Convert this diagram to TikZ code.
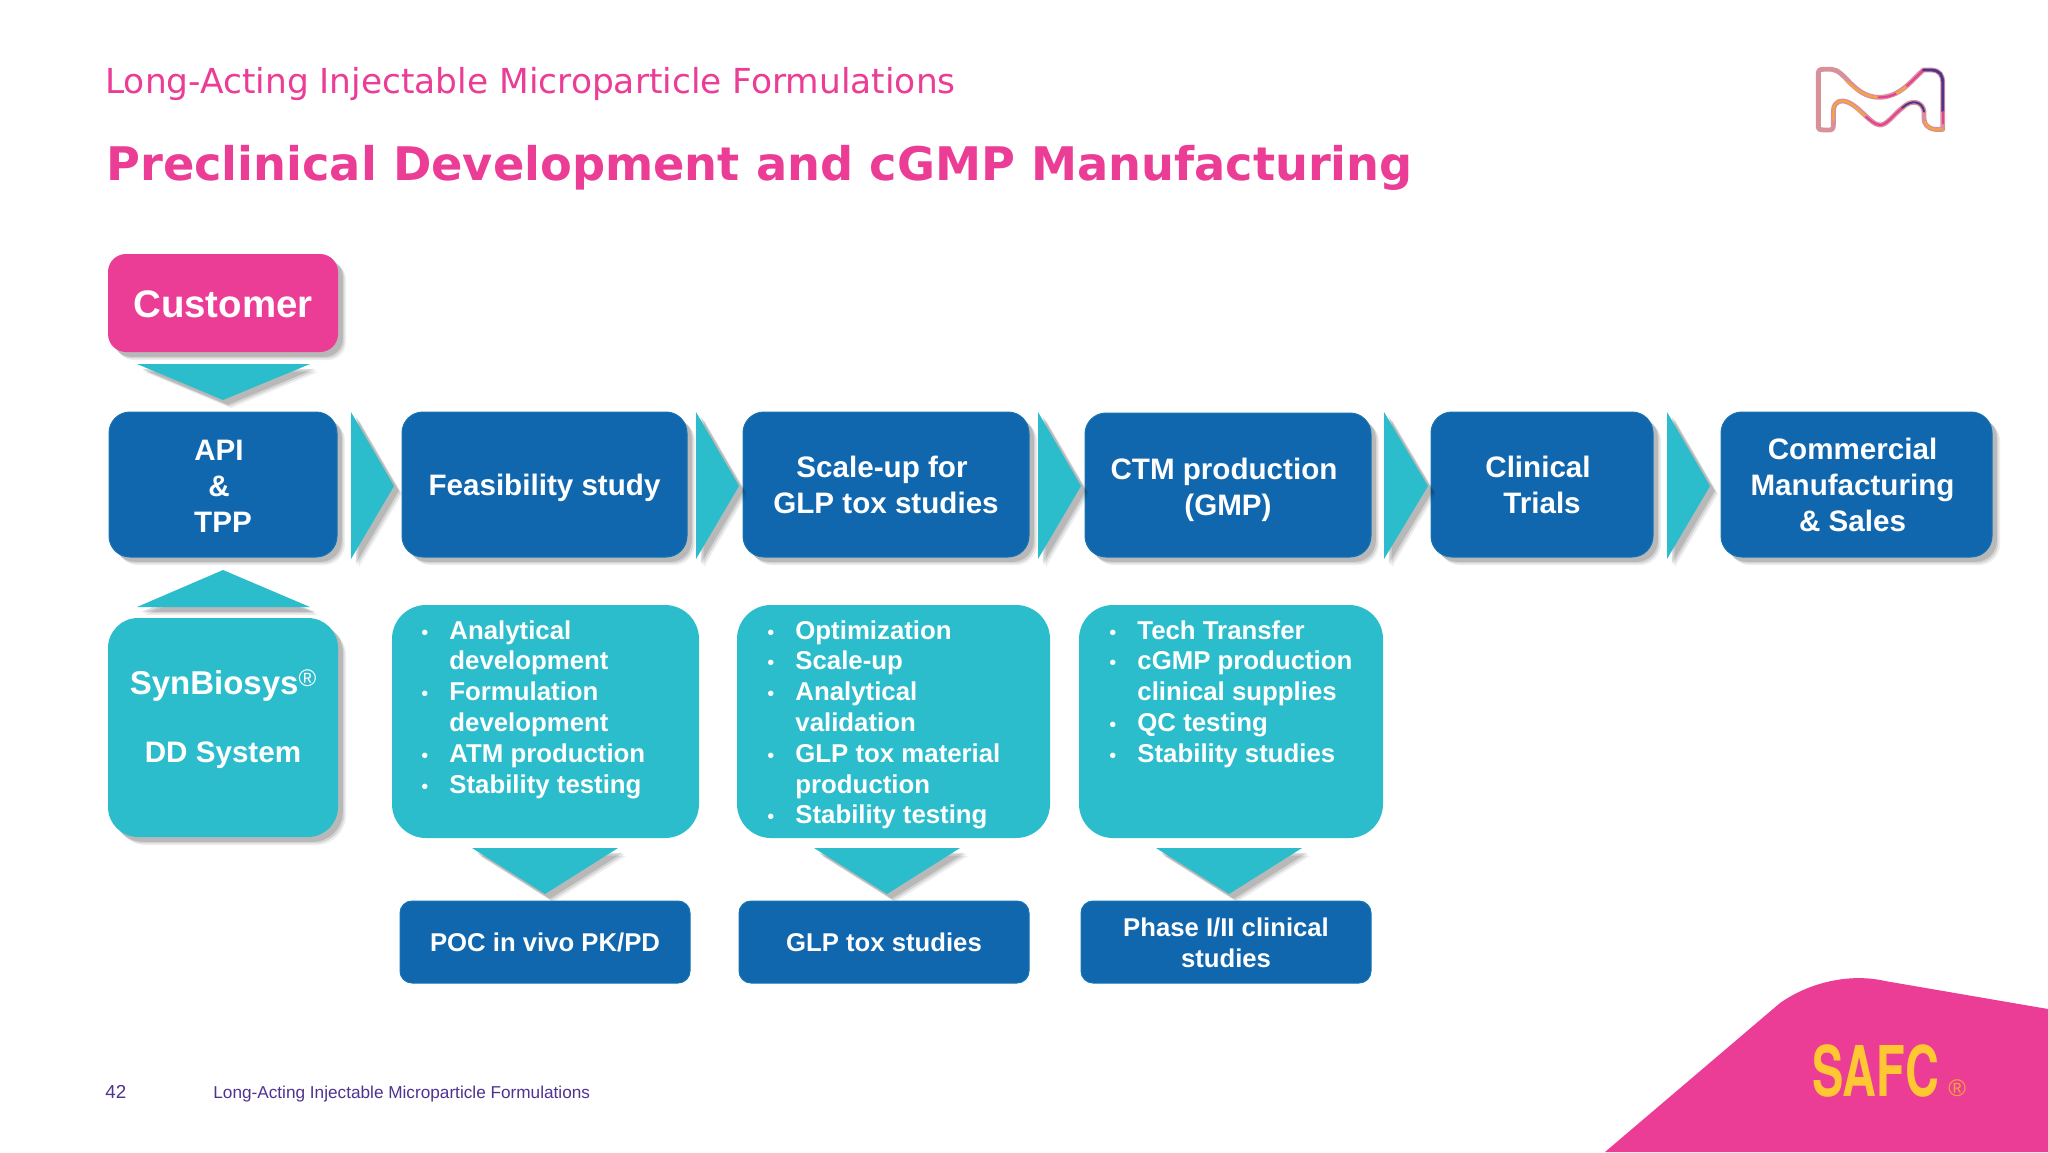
\documentclass[tikz,border=0pt]{standalone}
\usepackage{fontspec}
\setmainfont{Liberation Sans}
\newfontfamily\titlefont{DejaVu Sans}
\newfontfamily\logofont{TeX Gyre Heros}
\usetikzlibrary{shadows}
\definecolor{mpink}{HTML}{EB3C96}
\definecolor{mblue}{HTML}{1167AE}
\definecolor{mteal}{HTML}{2CBDCC}
\definecolor{mpurple}{HTML}{503291}
\definecolor{myellow}{HTML}{FFC832}
\definecolor{morange}{HTML}{F5A53C}
\definecolor{mrose}{HTML}{D8909A}
\newcommand{\itm}[1]{\makebox[14pt][l]{\normalfont\fontsize{10}{10}\selectfont\textbullet}#1}
\newcommand{\cnt}[1]{\makebox[14pt][l]{}#1}
\newcommand{\tsp}{\makebox[4pt]{}}
\newcommand{\low}[1]{\rule{0pt}{#1pt}}
\tikzset{
  softshadow/.style={
    general shadow={shadow xshift=4pt,shadow yshift=-4pt,fill=black,opacity=.07},
    general shadow={shadow xshift=3.2pt,shadow yshift=-3.2pt,fill=black,opacity=.10},
    general shadow={shadow xshift=2.4pt,shadow yshift=-2.4pt,fill=black,opacity=.13}},
  card/.style={softshadow,rounded corners=10.5pt,inner sep=0pt,align=center,text=white,font=\bfseries\fontsize{14.8}{18}\selectfont},
  bluecard/.style={card,fill=mblue,draw=mblue!85!mteal,line width=.5pt},
  pinkcard/.style={card,fill=mpink,font=\bfseries\fontsize{19.2}{23}\selectfont,rounded corners=9pt},
  tealcard/.style={card,fill=mteal,rounded corners=15pt},
  listcard/.style={fill=mteal,rounded corners=17pt,inner sep=0pt},
  listtext/.style={anchor=north west,inner sep=0pt,align=left,text=white,font=\bfseries\fontsize{12.9}{15.4}\selectfont},
  resultcard/.style={fill=mblue,draw=mblue!85!mteal,line width=.5pt,rounded corners=6pt,inner sep=0pt,align=center,text=white,font=\bfseries\fontsize{12.85}{15.4}\selectfont},
  flowarrow/.style={softshadow,fill=mteal},
  logoline/.style={line width=1pt,line cap=round,line join=round},
}
\begin{document}
\begin{tikzpicture}[x=0.5pt,y=-0.5pt]
\useasboundingbox (0,0) rectangle (2048,1152);
\fill[white] (0,0) rectangle (2048,1152);

% heading
\node[anchor=base west,inner sep=0pt,text=mpink,font=\titlefont\fontsize{17.2}{20}\selectfont] (subtitle) at (105,93) {Long-Acting Injectable Microparticle Formulations};
\node[anchor=base west,inner sep=0pt,text=mpink,font=\titlefont\bfseries\fontsize{23.14}{27}\selectfont] (title) at (106,180) {Preclinical Development and cGMP Manufacturing};

% corner shape and brand
\fill[mpink] (1605,1152) -- (1780,1003) .. controls (1810,982) and (1850,973) .. (1885,981) -- (2048,1009) -- (2048,1152) -- cycle;
\node[anchor=base west,inner sep=0pt,text=myellow,xscale=.67,transform shape,font=\logofont\bfseries\fontsize{35}{35}\selectfont] (safc) at (1812,1096) {SAFC};
\node[anchor=base west,inner sep=0pt,text=morange,font=\fontsize{12}{12}\selectfont] (reg) at (1948,1096) {®};

% logo
\begin{scope}[shift={(1750,40)},x=0.1667pt,y=-0.1667pt]
  \draw[mrose,line width=2.4pt,line join=round]
    (205,262) -- (205,100) .. controls (205,90) and (210,88) .. (220,88) -- (245,88)
    .. controls (285,90) and (310,170) .. (385,172) .. controls (450,172) and (480,125) .. (520,90)
    -- (545,90) .. controls (570,92) and (578,105) .. (578,130) -- (578,268) -- (555,268)
    .. controls (530,265) and (522,250) .. (522,235) -- (522,215) .. controls (518,185) and (485,175) .. (455,205)
    .. controls (430,225) and (410,255) .. (390,255) .. controls (360,255) and (320,185) .. (278,183)
    .. controls (255,183) and (250,200) .. (250,215) -- (250,255) .. controls (250,268) and (245,270) .. (235,270)
    .. controls (215,270) and (205,270) .. (205,262) -- cycle;
  \draw[logoline,morange] (290,125) .. controls (320,150) and (340,168) .. (385,172);
  \draw[logoline,mpink] (385,172) .. controls (405,172) and (420,170) .. (440,160);
  \draw[logoline,morange] (440,160) .. controls (450,155) and (460,148) .. (470,138);
  \draw[logoline,mpink] (470,138) .. controls (490,120) and (505,105) .. (520,90);
  \draw[mpurple,line width=1.4pt,line cap=round] (520,90) -- (545,90) .. controls (570,92) and (578,105) .. (578,130) -- (578,215);
  \draw[logoline,mpink] (578,215) -- (578,250);
  \draw[logoline,morange] (578,268) -- (555,268) .. controls (540,266) and (528,258) .. (524,245);
  \draw[mpurple,logoline] (522,215) .. controls (518,185) and (485,175) .. (455,205);
  \draw[logoline,mpink] (455,205) .. controls (430,225) and (410,255) .. (390,255) .. controls (375,255) and (360,240) .. (345,228);
  \draw[logoline,morange] (345,228) .. controls (320,205) and (300,184) .. (278,183) .. controls (255,183) and (250,200) .. (250,215) -- (250,240);
\end{scope}

% main row
\node[pinkcard,minimum width=115pt,minimum height=49pt] (customer) at (223,303) {\low{15.1}Customer};
\node[bluecard,minimum width=114pt,minimum height=72.5pt] (api) at (223,484.5) {\low{12}API\tsp\\\&\tsp\\TPP};
\node[bluecard,minimum width=142.5pt,minimum height=72.5pt] (feas) at (544.5,484.5) {\low{13.8}Feasibility study};
\node[bluecard,minimum width=143pt,minimum height=72.5pt] (scale) at (886,484.5) {Scale-up for\tsp\\GLP tox studies};
\node[bluecard,minimum width=143pt,minimum height=72pt] (ctm) at (1228,485) {\low{15.5}CTM production\tsp\\(GMP)};
\node[bluecard,minimum width=111pt,minimum height=72.5pt] (clin) at (1542,484.5) {Clinical\tsp\\Trials};
\node[bluecard,minimum width=135.5pt,minimum height=72.5pt] (comm) at (1856.5,484.5) {Commercial\tsp\\Manufacturing\tsp\\\& Sales\tsp};

% block arrows
\fill[flowarrow] (137,364) -- (310,364) -- (223,400) -- cycle;
\fill[flowarrow] (137,607) -- (310,607) -- (223,570) -- cycle;
\fill[flowarrow] (351,412) -- (394,486) -- (351,559) -- cycle;
\fill[flowarrow] (696,412) -- (739,486) -- (696,559) -- cycle;
\fill[flowarrow] (1038,412) -- (1081,486) -- (1038,559) -- cycle;
\fill[flowarrow] (1384,412) -- (1428,486) -- (1384,559) -- cycle;
\fill[flowarrow] (1667,412) -- (1710,486) -- (1667,559) -- cycle;
\fill[flowarrow] (472,848) -- (618,848) -- (545,894) -- cycle;
\fill[flowarrow] (814,848) -- (960,848) -- (887,894) -- cycle;
\fill[flowarrow] (1156,848) -- (1302,848) -- (1229,894) -- cycle;

% second row
\node[tealcard,minimum width=115pt,minimum height=109.5pt] (syn) at (223,727.5) {};
\node[anchor=base,inner sep=0pt,text=white,font=\bfseries\fontsize{16.5}{18}\selectfont] (syntext) at (223,694) {SynBiosys\raisebox{4pt}{\normalfont\fontsize{12}{12}\selectfont ®}};
\node[anchor=base,inner sep=0pt,text=white,font=\bfseries\fontsize{14.8}{18}\selectfont] (ddtext) at (223,762) {DD System};

\node[listcard,minimum width=153.5pt,minimum height=116.5pt] (l1) at (545.5,721.5) {};
\node[listcard,minimum width=156.5pt,minimum height=116.5pt] (l2) at (893.5,721.5) {};
\node[listcard,minimum width=152pt,minimum height=116.5pt] (l3) at (1231,721.5) {};
\node[listtext] (l1t) at (421,620) {\itm{Analytical}\\\cnt{development}\\\itm{Formulation}\\\cnt{development}\\\itm{ATM production}\\\itm{Stability testing}};
\node[listtext] (l2t) at (767,620) {\itm{Optimization}\\\itm{Scale-up}\\\itm{Analytical}\\\cnt{validation}\\\itm{GLP tox material}\\\cnt{production}\\\itm{Stability testing}};
\node[listtext] (l3t) at (1109,620) {\itm{Tech Transfer}\\\itm{cGMP production}\\\cnt{clinical supplies}\\\itm{QC testing}\\\itm{Stability studies}};

% third row
\node[resultcard,minimum width=145pt,minimum height=41pt] (r1) at (545,942) {\low{10}POC in vivo PK/PD};
\node[resultcard,minimum width=145pt,minimum height=41pt] (r2) at (884,942) {\low{10}GLP tox studies};
\node[resultcard,minimum width=145pt,minimum height=41pt] (r3) at (1226,942) {\low{10.4}Phase I/II clinical\\studies};

% footer
\node[anchor=base west,inner sep=0pt,text=mpurple,font=\fontsize{9.4}{11}\selectfont] (pageno) at (105,1098) {42};
\node[anchor=base west,inner sep=0pt,text=mpurple,font=\fontsize{8.6}{11}\selectfont] (foot) at (213,1098) {Long-Acting Injectable Microparticle Formulations};
\end{tikzpicture}
\end{document}
